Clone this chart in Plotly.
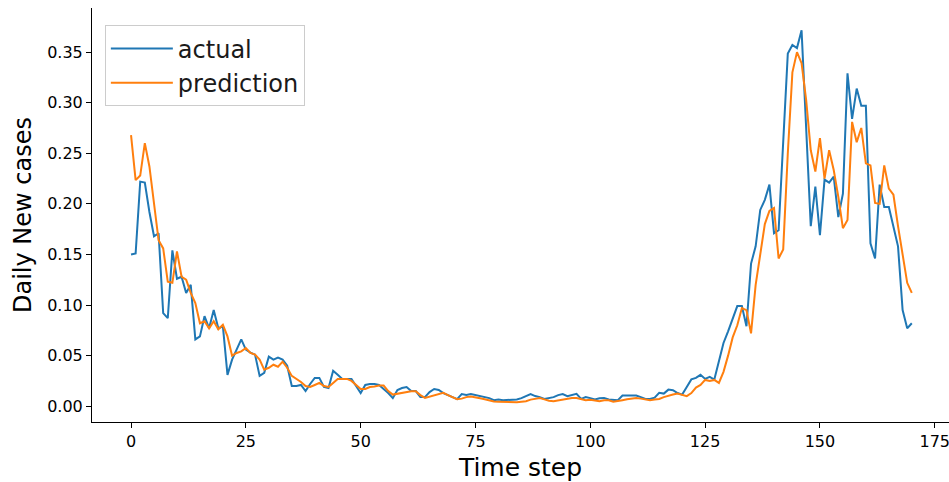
import plotly.graph_objects as go

time_step = list(range(171))

actual = [
    0.150, 0.151, 0.222, 0.221, 0.192, 0.168, 0.171, 0.092, 0.087, 0.154,
    0.126, 0.128, 0.112, 0.120, 0.066, 0.069, 0.089, 0.077, 0.095, 0.077,
    0.079, 0.031, 0.046, 0.056, 0.066, 0.056, 0.053, 0.051, 0.030, 0.033,
    0.049, 0.046, 0.048, 0.046, 0.040, 0.020, 0.020, 0.021, 0.015, 0.022,
    0.028, 0.028, 0.019, 0.018, 0.035, 0.031, 0.027, 0.027, 0.027, 0.020,
    0.013, 0.021, 0.022, 0.022, 0.021, 0.017, 0.013, 0.008, 0.016, 0.018,
    0.019, 0.015, 0.015, 0.009, 0.009, 0.014, 0.017, 0.016, 0.013, 0.011,
    0.009, 0.007, 0.012, 0.011, 0.012, 0.011, 0.010, 0.009, 0.008, 0.006,
    0.0066, 0.006, 0.006, 0.006, 0.0066, 0.008, 0.0099, 0.012, 0.010, 0.009,
    0.0072, 0.008, 0.009, 0.011, 0.012, 0.0099, 0.011, 0.0122, 0.0072, 0.009,
    0.008, 0.0066, 0.0078, 0.0082, 0.0066, 0.0062, 0.006, 0.0105, 0.0105, 0.0099,
    0.0105, 0.009, 0.0072, 0.0072, 0.0085, 0.0132, 0.0125, 0.0164, 0.0158, 0.013,
    0.0115, 0.019, 0.0265, 0.028, 0.031, 0.027, 0.029, 0.0264, 0.046, 0.0625,
    0.074, 0.086, 0.099, 0.099, 0.079, 0.141, 0.158, 0.194, 0.204, 0.219,
    0.171, 0.174, 0.260, 0.3485, 0.357, 0.354, 0.3715, 0.270, 0.178, 0.217,
    0.169, 0.224, 0.221, 0.227, 0.187, 0.210, 0.329, 0.284, 0.314, 0.297,
    0.297, 0.161, 0.146, 0.219, 0.197, 0.197, 0.178, 0.158, 0.095, 0.077,
    0.082,
]

prediction = [
    0.268, 0.2235, 0.228, 0.260, 0.237, 0.2005, 0.164, 0.156, 0.123, 0.122,
    0.153, 0.128, 0.125, 0.112, 0.102, 0.082, 0.084, 0.077, 0.084, 0.076,
    0.0805, 0.069, 0.050, 0.0526, 0.0542, 0.0575, 0.0526, 0.051, 0.046, 0.036,
    0.038, 0.041, 0.039, 0.044, 0.038, 0.030, 0.027, 0.024, 0.020, 0.019,
    0.021, 0.023, 0.020, 0.019, 0.023, 0.027, 0.027, 0.027, 0.025, 0.021,
    0.017, 0.017, 0.019, 0.0195, 0.0204, 0.0204, 0.015, 0.0115, 0.0125, 0.013,
    0.0143, 0.0148, 0.0148, 0.011, 0.0082, 0.0095, 0.011, 0.012, 0.0132, 0.011,
    0.009, 0.007, 0.0075, 0.009, 0.0097, 0.009, 0.0078, 0.0068, 0.0058, 0.0047,
    0.0045, 0.0043, 0.004, 0.004, 0.004, 0.0045, 0.005, 0.0065, 0.0075, 0.0082,
    0.0068, 0.0055, 0.005, 0.0058, 0.0068, 0.0075, 0.0082, 0.0082, 0.007, 0.006,
    0.0063, 0.006, 0.005, 0.006, 0.0058, 0.0045, 0.005, 0.006, 0.0068, 0.0072,
    0.008, 0.0075, 0.0066, 0.006, 0.0066, 0.0072, 0.009, 0.0105, 0.0115, 0.0125,
    0.011, 0.010, 0.013, 0.0185, 0.021, 0.026, 0.025, 0.026, 0.023, 0.034,
    0.050, 0.068, 0.080, 0.097, 0.095, 0.072, 0.120, 0.150, 0.180, 0.193,
    0.196, 0.146, 0.155, 0.250, 0.330, 0.350, 0.339, 0.3025, 0.253, 0.232,
    0.265, 0.225, 0.253, 0.2335, 0.207, 0.176, 0.184, 0.281, 0.261, 0.275,
    0.240, 0.238, 0.201, 0.200, 0.238, 0.215, 0.209, 0.178, 0.151, 0.122,
    0.112,
]

x_ticks = [0, 25, 50, 75, 100, 125, 150, 175]
y_ticks = [0.00, 0.05, 0.10, 0.15, 0.20, 0.25, 0.30, 0.35]

FONT = "DejaVu Sans"

fig = go.Figure()
fig.add_trace(go.Scatter(x=time_step, y=actual, mode="lines", name="actual",
                         line=dict(color="#1f77b4", width=2)))
fig.add_trace(go.Scatter(x=time_step, y=prediction, mode="lines", name="prediction",
                         line=dict(color="#ff7f0e", width=2)))

axis_common = dict(
    showgrid=False, zeroline=False, showline=True, linecolor="black", linewidth=1,
    ticks="outside", ticklen=5, tickwidth=1, tickcolor="black", mirror=False,
    tickfont=dict(family=FONT, size=16, color="black"), automargin=False,
    ticklabeloverflow="allow",
)

fig.update_layout(
    width=949, height=482,
    margin=dict(l=92, r=0, t=8, b=60),
    paper_bgcolor="white", plot_bgcolor="white",
    font=dict(family=FONT, color="black"),
    xaxis=dict(range=[-8.5, 178.1], tickvals=x_ticks,
               title=dict(text="Time step", font=dict(family=FONT, size=25), standoff=8),
               **axis_common),
    yaxis=dict(range=[-0.0156, 0.3936], tickvals=y_ticks, tickformat=".2f",
               title=dict(text="Daily New cases", font=dict(family=FONT, size=24), standoff=8),
               **axis_common),
    legend=dict(x=0.015, y=0.958, xanchor="left", yanchor="top", itemwidth=62,
                bgcolor="rgba(255,255,255,0.8)", bordercolor="#cccccc", borderwidth=1,
                font=dict(family=FONT, size=24, color="#1a1a1a"), tracegroupgap=0),
    showlegend=True,
)

fig.write_html("out.html", config={"displayModeBar": False},
               post_script="document.body.style.margin='0';")
